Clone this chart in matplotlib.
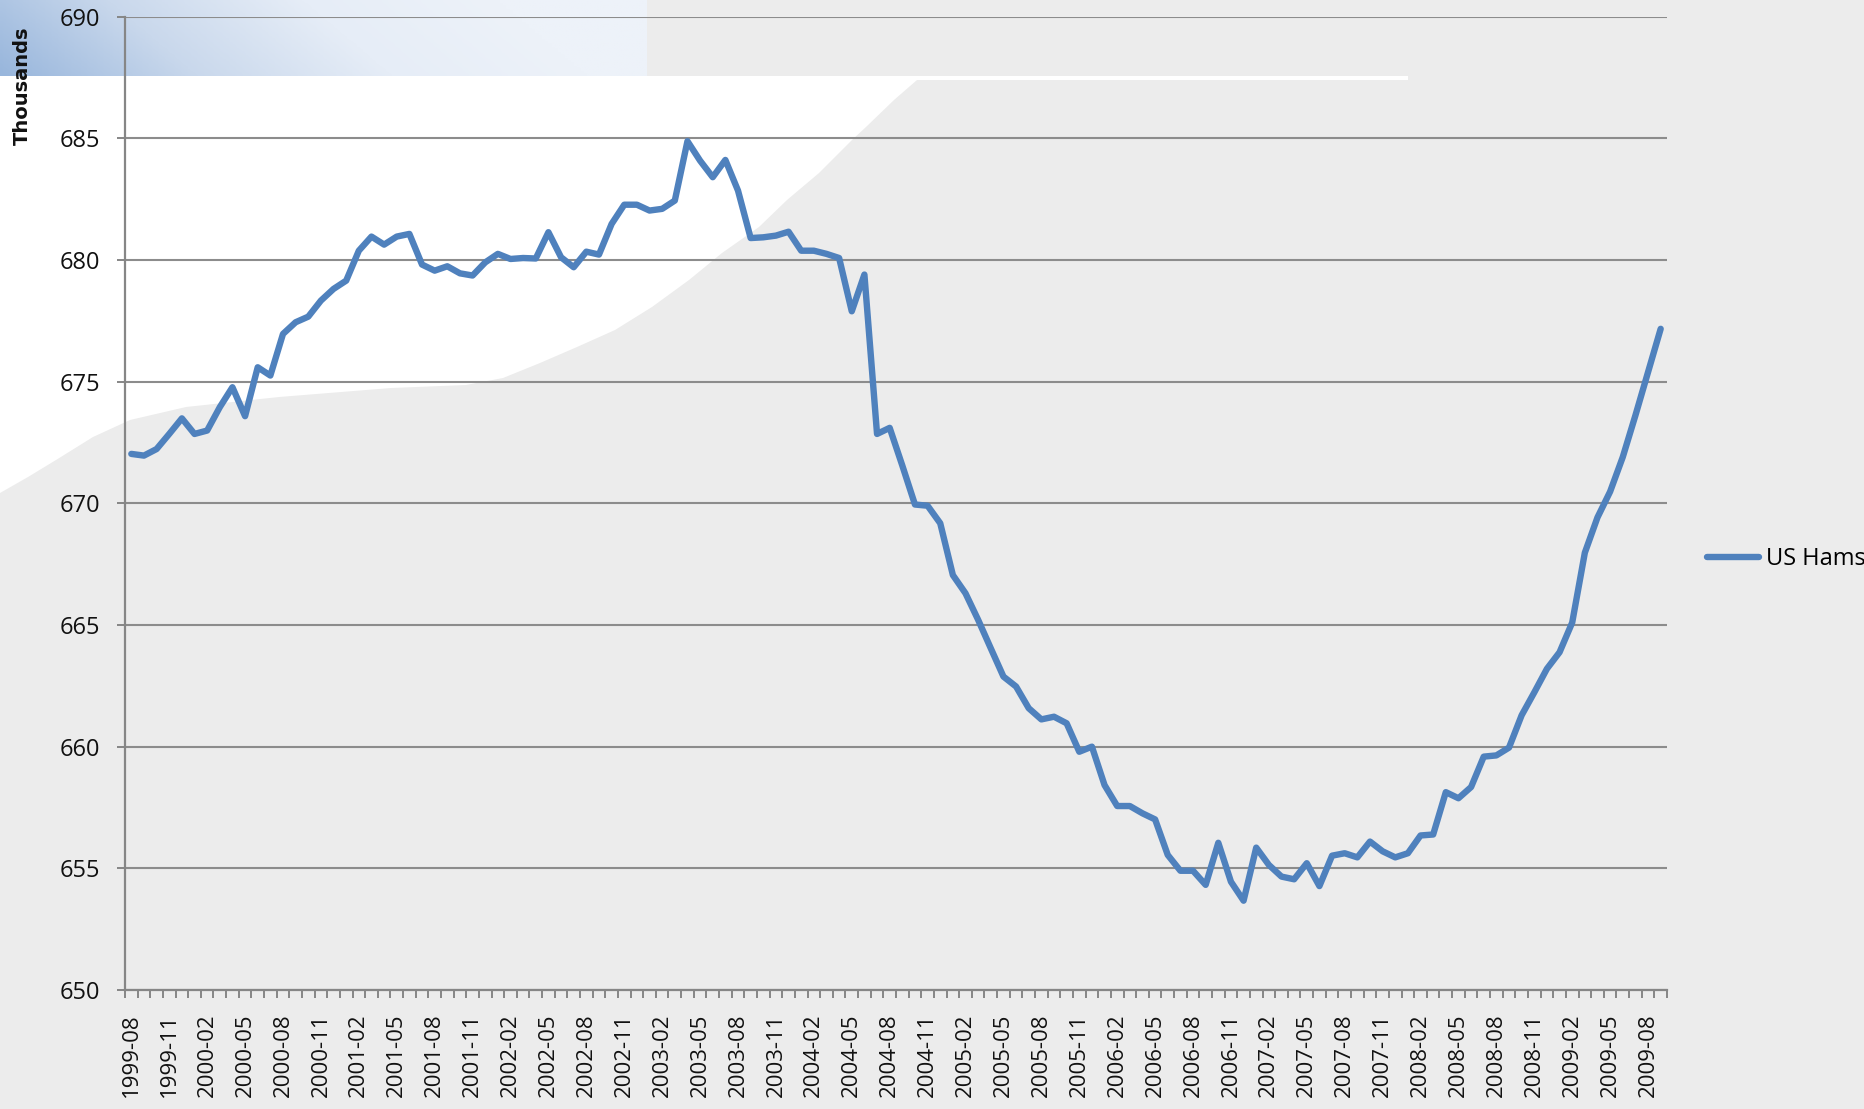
import numpy as np
import pandas as pd
import matplotlib
matplotlib.use('Agg')
import matplotlib.pyplot as plt
from matplotlib.patches import Polygon, Rectangle
from matplotlib.colors import LinearSegmentedColormap

# monthly US ham count (thousands), Aug 1999 - Sep 2009
months = pd.period_range('1999-08', periods=122, freq='M').strftime('%Y-%m').tolist()
hams = [672.03, 671.96, 672.23, 672.85, 673.49, 672.85, 672.99, 673.95, 674.77, 673.58,
        675.59, 675.25, 676.96, 677.44, 677.67, 678.33, 678.81, 679.15, 680.38, 680.96,
        680.63, 680.96, 681.07, 679.81, 679.56, 679.74, 679.45, 679.36, 679.90, 680.25,
        680.04, 680.08, 680.06, 681.14, 680.11, 679.70, 680.34, 680.22, 681.48, 682.27,
        682.27, 682.03, 682.10, 682.44, 684.88, 684.08, 683.40, 684.11, 682.85, 680.90,
        680.93, 681.00, 681.16, 680.38, 680.38, 680.25, 680.08, 677.89, 679.40, 672.85,
        673.10, 671.55, 669.95, 669.90, 669.18, 667.05, 666.30, 665.21, 664.04, 662.88,
        662.47, 661.58, 661.12, 661.23, 660.96, 659.79, 660.00, 658.42, 657.56, 657.56,
        657.26, 657.01, 655.55, 654.90, 654.90, 654.32, 656.05, 654.45, 653.67, 655.85,
        655.14, 654.66, 654.55, 655.21, 654.27, 655.52, 655.62, 655.45, 656.10, 655.70,
        655.45, 655.62, 656.35, 656.39, 658.13, 657.88, 658.34, 659.59, 659.64, 659.96,
        661.29, 662.23, 663.20, 663.88, 665.10, 667.97, 669.42, 670.48, 671.90, 673.61,
        675.39, 677.17]
series_name = 'US Hams'
y_ticks = [650, 655, 660, 665, 670, 675, 680, 685, 690]

plt.rcParams['font.family'] = ['Open Sans', 'DejaVu Sans']

W, H = 1865, 1109
fig = plt.figure(figsize=(W / 100, H / 100), dpi=100, facecolor='#ececec')

# background decoration (pixel coords of the figure)
bg = fig.add_axes([0, 0, 1, 1], zorder=-5)
bg.set_xlim(0, W)
bg.set_ylim(H, 0)
bg.axis('off')
white_edge = [(0, 76), (917, 76), (917, 80), (894, 100), (866, 127), (852, 140), (819, 173),
              (787, 200), (759, 227), (722, 253), (689, 280), (652, 307), (615, 330),
              (577, 347), (540, 363), (503, 378), (466, 385), (391, 388), (279, 397),
              (186, 407), (130, 420), (93, 437), (56, 460), (28, 477), (0, 493)]
bg.add_patch(Polygon(white_edge, closed=True, facecolor='white', edgecolor='none'))
bg.add_patch(Rectangle((900, 76), 508, 4, facecolor='white', edgecolor='none'))
gx, gy = np.meshgrid(np.linspace(0, 1, 200), np.linspace(0, 1, 40))
grad = np.clip(gx * 1.1 + (1 - gy) * 0.15, 0, 1)
cmap = LinearSegmentedColormap.from_list('band', ['#98b6dc', '#c9d8ec', '#e6edf7', '#edf2f9'])
bg.imshow(grad, cmap=cmap, extent=(0, 647, 76, 0), aspect='auto', zorder=0)

ax = fig.add_axes([125 / W, 1 - 990 / H, (1667 - 125) / W, (990 - 16.6) / H])
ax.set_facecolor('none')
x = np.arange(len(hams))
ax.plot(x, hams, color='#4f81bd', lw=4.6, solid_joinstyle='round',
        solid_capstyle='round', label=series_name, zorder=3)

ax.set_xlim(-0.5, len(hams) - 0.5)
ax.set_ylim(650, 690)
ax.set_yticks(y_ticks)
ax.set_yticklabels([str(v) for v in y_ticks])
ax.yaxis.grid(True, color='#8c8c8c', lw=1.5)
ax.set_axisbelow(True)
ax.set_xticks(x[::3])
ax.set_xticklabels(months[::3], rotation=90)
ax.set_xticks(np.arange(-0.5, len(hams), 1), minor=True)
ax.tick_params(axis='x', which='major', length=0, pad=17, labelsize=16, colors='#111111')
ax.tick_params(axis='x', which='minor', length=6, width=1.4, color='#868686')
ax.tick_params(axis='y', length=6, width=1.4, color='#868686', pad=12, labelsize=17,
               labelcolor='#111111')
for s in ['top', 'right']:
    ax.spines[s].set_visible(False)
for s in ['left', 'bottom']:
    ax.spines[s].set_color('#868686')
    ax.spines[s].set_linewidth(1.6)

fig.text(22 / W, 1 - 86 / H, 'Thousands', rotation=90, ha='center', va='center',
         fontsize=14, fontweight='bold', family='DejaVu Sans', color='#111111')

ax.legend(loc='center left', bbox_to_anchor=(1707 / W, 1 - 559 / H),
          bbox_transform=fig.transFigure, frameon=False, fontsize=17,
          handlelength=2.2, handletextpad=0.3, borderpad=0, borderaxespad=0)

fig.savefig('out.png', dpi=100, facecolor=fig.get_facecolor())
